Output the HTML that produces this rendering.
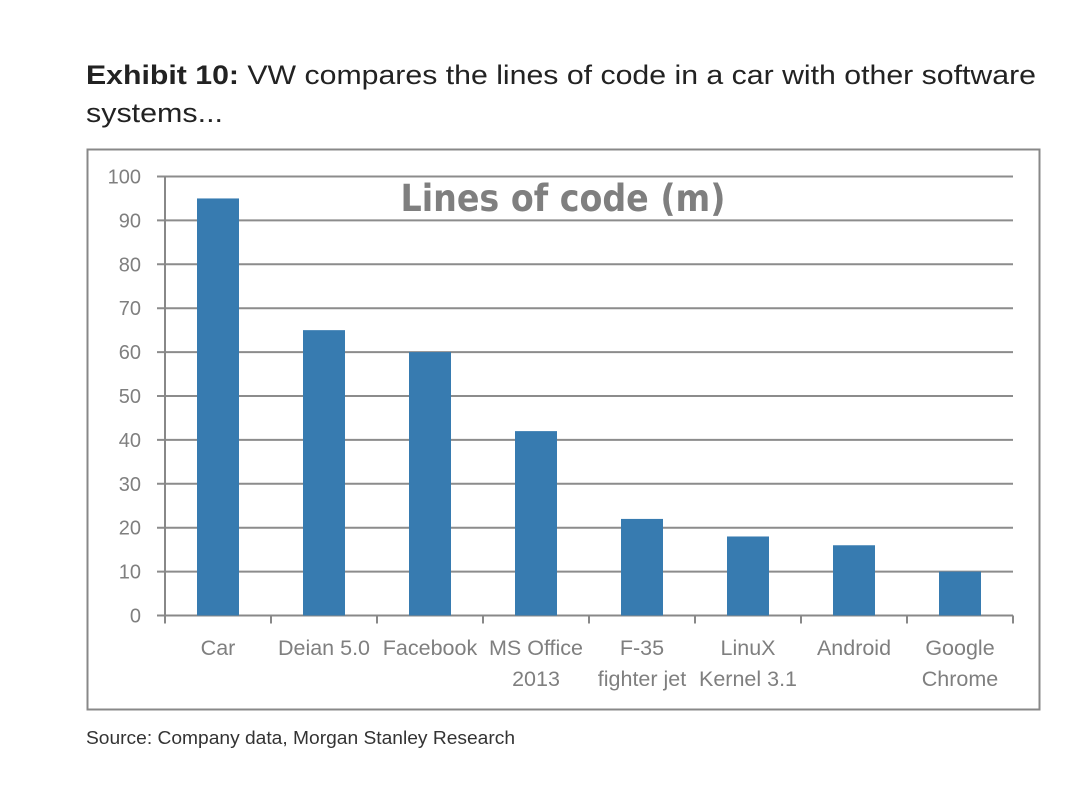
<!DOCTYPE html>
<html><head><meta charset="utf-8"><style>
body{margin:0;background:#fff;width:1066px;height:798px;overflow:hidden;font-family:"Liberation Sans",sans-serif}
</style></head><body>
<svg width="1066" height="798">
<text x="86" y="84" font-size="27" fill="#222" textLength="950" lengthAdjust="spacingAndGlyphs"><tspan font-weight="bold">Exhibit 10:</tspan> VW compares the lines of code in a car with other software</text>
<text x="86" y="122" font-size="27" fill="#222" textLength="137" lengthAdjust="spacingAndGlyphs">systems...</text>
<rect x="87.5" y="149.5" width="952" height="560" fill="none" stroke="#888" stroke-width="2"/>
<g id="grid"></g><g id="bars"></g><g id="axes"></g>
<text x="563" y="211" font-size="37" font-weight="bold" fill="#7f7f7f" text-anchor="middle" font-family="'DejaVu Sans Condensed','Liberation Sans Narrow','Liberation Sans',sans-serif">Lines of code (m)</text>
<text x="86" y="744" font-size="18" fill="#333" textLength="429" lengthAdjust="spacingAndGlyphs">Source: Company data, Morgan Stanley Research</text>
</svg>
<script>
const categories=[["Car"],["Deian 5.0"],["Facebook"],["MS Office","2013"],["F-35","fighter jet"],["LinuX","Kernel 3.1"],["Android"],["Google","Chrome"]];
const values=[95,65,60,42,22,18,16,10];
const yTicks=[0,10,20,30,40,50,60,70,80,90,100];
const NS="http://www.w3.org/2000/svg";
const x0=165,x1=1013,yb=615.5,yt=176.5;
const bw=(x1-x0)/categories.length;
const y=v=>yb-(v/100)*(yb-yt);
function mk(t,a,p){const e=document.createElementNS(NS,t);for(const k in a)e.setAttribute(k,a[k]);p.appendChild(e);return e;}
const g=document.getElementById('grid'),b=document.getElementById('bars'),ax=document.getElementById('axes');
yTicks.forEach(v=>{
 const l=mk('line',{x1:157,x2:x1,y1:y(v),y2:y(v),stroke:v==0?'#888':'#8c8c8c','stroke-width':2},g);
 
 
 const t=mk('text',{x:141,y:y(v)+7,'font-size':20,fill:'#7f7f7f','text-anchor':'end'},ax);
 t.textContent=v;
 
 
});
const ya=mk('line',{x1:x0,x2:x0,y1:yt,y2:yb,stroke:'#888','stroke-width':2},ax);


for(let i=0;i<=categories.length;i++){
 const tk=mk('line',{x1:x0+i*bw,x2:x0+i*bw,y1:yb,y2:yb+8,stroke:'#888','stroke-width':2},ax);
 
 
}
categories.forEach((c,i)=>{
 const cx=x0+(i+0.5)*bw;
 const r=mk('rect',{x:cx-21,y:y(values[i]),width:42,height:yb-y(values[i]),fill:'#377bb0'},b);
 
 
 c.forEach((s,j)=>{
  const t=mk('text',{x:cx,y:655+j*31,'font-size':21.5,fill:'#7f7f7f','text-anchor':'middle'},ax);
  t.textContent=s;
  
  
 });
});
</script>
</body></html>
